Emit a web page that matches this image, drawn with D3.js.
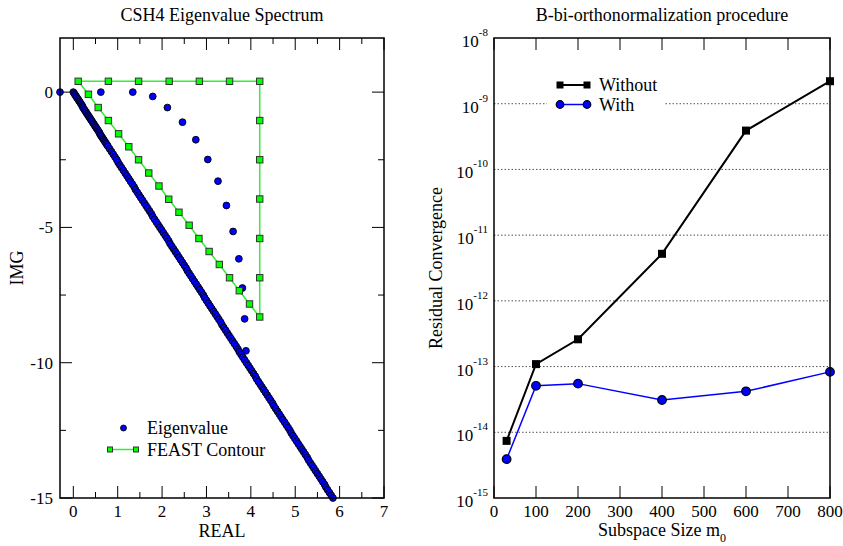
<!DOCTYPE html>
<html lang="en">
<head>
<meta charset="UTF-8">
<title>CSH4 Eigenvalue Spectrum / B-bi-orthonormalization</title>
<script src="https://cdnjs.cloudflare.com/ajax/libs/d3/7.8.5/d3.min.js"></script>
<style>
  body { margin: 0; background: #fff; }
  svg { display: block; font-family: "Liberation Serif", "Times New Roman", "DejaVu Serif", serif; }
  .tick-label { font-size: 17px; fill: #000; }
  .title { font-size: 18px; fill: #000; }
  .axis-title { font-size: 18px; fill: #000; }
  .legend-text { font-size: 18px; fill: #000; }
</style>
</head>
<body>
<svg id="chart" width="843" height="546"></svg>
<script>
// ---- left panel data: eigenvalues (real, imag) ----
const eigenBranch = [
  [-0.30, 0.00], [0.62, 0.00], [1.34, 0.00], [1.79, -0.16], [2.12, -0.57],
  [2.46, -1.11], [2.76, -1.76], [3.03, -2.49], [3.26, -3.29], [3.45, -4.19],
  [3.60, -5.15], [3.73, -6.16], [3.81, -7.24], [3.86, -8.38], [3.89, -9.56]
];
const eigenLine = [
  [0.00,0.00],[0.02,-0.05],[0.04,-0.10],[0.06,-0.15],[0.08,-0.20],[0.10,-0.25],[0.12,-0.30],[0.14,-0.35],
  [0.16,-0.40],[0.18,-0.45],[0.20,-0.50],[0.21,-0.55],[0.23,-0.60],[0.25,-0.65],[0.27,-0.70],[0.29,-0.75],
  [0.31,-0.80],[0.33,-0.85],[0.35,-0.90],[0.37,-0.95],[0.39,-1.00],[0.41,-1.05],[0.43,-1.10],[0.45,-1.15],
  [0.47,-1.20],[0.49,-1.25],[0.51,-1.30],[0.53,-1.35],[0.55,-1.40],[0.57,-1.45],[0.59,-1.50],[0.60,-1.55],
  [0.62,-1.60],[0.64,-1.65],[0.66,-1.70],[0.68,-1.75],[0.70,-1.80],[0.72,-1.85],[0.74,-1.90],[0.76,-1.95],
  [0.78,-2.0],[0.82,-2.1],[0.86,-2.2],[0.90,-2.3],[0.94,-2.4],[0.98,-2.5],[1.01,-2.6],[1.05,-2.7],
  [1.09,-2.8],[1.13,-2.9],[1.17,-3.0],[1.21,-3.1],[1.25,-3.2],[1.29,-3.3],[1.33,-3.4],[1.37,-3.5],
  [1.40,-3.6],[1.44,-3.7],[1.48,-3.8],[1.52,-3.9],[1.56,-4.0],[1.60,-4.1],[1.64,-4.2],[1.68,-4.3],
  [1.72,-4.4],[1.76,-4.5],[1.79,-4.6],[1.83,-4.7],[1.87,-4.8],[1.91,-4.9],[1.95,-5.0],[1.99,-5.1],
  [2.03,-5.2],[2.07,-5.3],[2.11,-5.4],[2.15,-5.5],[2.18,-5.6],[2.22,-5.7],[2.26,-5.8],[2.30,-5.9],
  [2.34,-6.0],[2.38,-6.1],[2.42,-6.2],[2.46,-6.3],[2.50,-6.4],[2.54,-6.5],[2.57,-6.6],[2.61,-6.7],
  [2.65,-6.8],[2.69,-6.9],[2.73,-7.0],[2.77,-7.1],[2.81,-7.2],[2.85,-7.3],[2.89,-7.4],[2.93,-7.5],
  [2.96,-7.6],[3.00,-7.7],[3.04,-7.8],[3.08,-7.9],[3.12,-8.0],[3.16,-8.1],[3.20,-8.2],[3.24,-8.3],
  [3.28,-8.4],[3.32,-8.5],[3.35,-8.6],[3.39,-8.7],[3.43,-8.8],[3.47,-8.9],[3.51,-9.0],[3.55,-9.1],
  [3.59,-9.2],[3.63,-9.3],[3.67,-9.4],[3.71,-9.5],[3.74,-9.6],[3.78,-9.7],[3.82,-9.8],[3.86,-9.9],
  [3.90,-10.0],[3.94,-10.1],[3.98,-10.2],[4.02,-10.3],[4.06,-10.4],[4.10,-10.5],[4.13,-10.6],[4.17,-10.7],
  [4.21,-10.8],[4.25,-10.9],[4.29,-11.0],[4.33,-11.1],[4.37,-11.2],[4.41,-11.3],[4.45,-11.4],[4.49,-11.5],
  [4.52,-11.6],[4.56,-11.7],[4.60,-11.8],[4.64,-11.9],[4.68,-12.0],[4.72,-12.1],[4.76,-12.2],[4.80,-12.3],
  [4.84,-12.4],[4.88,-12.5],[4.91,-12.6],[4.95,-12.7],[4.99,-12.8],[5.03,-12.9],[5.07,-13.0],[5.11,-13.1],
  [5.15,-13.2],[5.19,-13.3],[5.23,-13.4],[5.27,-13.5],[5.30,-13.6],[5.34,-13.7],[5.38,-13.8],[5.42,-13.9],
  [5.46,-14.0],[5.50,-14.1],[5.54,-14.2],[5.58,-14.3],[5.62,-14.4],[5.66,-14.5],[5.69,-14.6],[5.73,-14.7],
  [5.77,-14.8],[5.81,-14.9],[5.85,-15.0]
];
// FEAST contour polyline (top edge -> right edge -> diagonal back)
const feastContour = [
  [0.11,0.40],[0.79,0.40],[1.47,0.40],[2.16,0.40],[2.84,0.40],[3.52,0.40],[4.20,0.40],
  [4.20,-1.05],[4.20,-2.50],[4.20,-3.95],[4.20,-5.41],[4.20,-6.86],[4.20,-8.31],
  [3.97,-7.83],[3.74,-7.34],[3.52,-6.86],[3.29,-6.37],[3.06,-5.89],[2.83,-5.41],[2.61,-4.92],
  [2.38,-4.44],[2.15,-3.96],[1.93,-3.47],[1.70,-2.99],[1.47,-2.50],[1.25,-2.02],[1.02,-1.54],
  [0.79,-1.05],[0.56,-0.57],[0.34,-0.08],[0.11,0.40]
];
const leftXTicks = [0, 1, 2, 3, 4, 5, 6, 7];
const leftYTicks = [0, -5, -10, -15];

// ---- right panel data ----
const subspaceSizes = [30, 100, 200, 400, 600, 800];
const residualWithout = [7.4e-15, 1.09e-13, 2.6e-13, 5.2e-12, 3.9e-10, 2.2e-9];
const residualWith = [3.9e-15, 5.1e-14, 5.5e-14, 3.1e-14, 4.2e-14, 8.3e-14];
const rightXTicks = [0, 100, 200, 300, 400, 500, 600, 700, 800];
const rightYExponents = [-8, -9, -10, -11, -12, -13, -14, -15];

const svg = d3.select("#chart");

// =============== LEFT PANEL ===============
const L = { left: 60, right: 384, top: 38, bottom: 498 };
const lx = d3.scaleLinear().domain([-0.3, 7]).range([L.left, L.right]);
const ly = d3.scaleLinear().domain([-15, 2]).range([L.bottom, L.top]);

const left = svg.append("g");
left.append("defs").append("clipPath").attr("id", "clipL")
  .append("rect").attr("x", L.left - 5).attr("y", L.top).attr("width", L.right - L.left + 5).attr("height", L.bottom - L.top + 5);

// ticks (inward, mirrored)
const lxMinor = d3.range(0.5, 7, 1);
const lyMinor = [-2.5, -7.5, -12.5];
const tickG = left.append("g").attr("stroke", "#000").attr("stroke-width", 1);
leftXTicks.concat(lxMinor).forEach(v => {
  const len = Number.isInteger(v) ? 12 : 6;
  tickG.append("line").attr("x1", lx(v)).attr("x2", lx(v)).attr("y1", L.bottom).attr("y2", L.bottom - len);
  tickG.append("line").attr("x1", lx(v)).attr("x2", lx(v)).attr("y1", L.top).attr("y2", L.top + len);
});
leftYTicks.concat(lyMinor).forEach(v => {
  const len = Number.isInteger(v) && v % 5 === 0 ? 12 : 6;
  tickG.append("line").attr("y1", ly(v)).attr("y2", ly(v)).attr("x1", L.left).attr("x2", L.left + len);
  tickG.append("line").attr("y1", ly(v)).attr("y2", ly(v)).attr("x1", L.right).attr("x2", L.right - len);
});

leftXTicks.forEach(v => {
  left.append("text").attr("class", "tick-label").attr("x", lx(v)).attr("y", 517)
    .attr("text-anchor", "middle").text(v);
});
leftYTicks.forEach(v => {
  left.append("text").attr("class", "tick-label").attr("x", 53).attr("y", ly(v) + 6)
    .attr("text-anchor", "end").text(v === 0 ? "0" : "-" + Math.abs(v));
});

// FEAST contour
const plotL = left.append("g").attr("clip-path", "url(#clipL)");
plotL.append("path").datum(feastContour)
  .attr("d", d3.line().x(d => lx(d[0])).y(d => ly(d[1])))
  .attr("fill", "none").attr("stroke", "#33ee33").attr("stroke-width", 1.5);

// eigenvalues
plotL.selectAll("circle.eig").data(eigenBranch.concat(eigenLine)).join("circle")
  .attr("class", "eig")
  .attr("cx", d => lx(d[0])).attr("cy", d => ly(d[1])).attr("r", 3.4)
  .attr("fill", "#0000ff").attr("stroke", "#000").attr("stroke-width", 0.9);

plotL.selectAll("rect.feast").data(feastContour.slice(0, -1)).join("rect")
  .attr("class", "feast")
  .attr("x", d => lx(d[0]) - 3.2).attr("y", d => ly(d[1]) - 3.2)
  .attr("width", 6.4).attr("height", 6.4)
  .attr("fill", "#00ff00").attr("stroke", "#333").attr("stroke-width", 1);

// frame
left.append("rect").attr("x", L.left).attr("y", L.top).attr("width", L.right - L.left).attr("height", L.bottom - L.top)
  .attr("fill", "none").attr("stroke", "#000").attr("stroke-width", 1.5);

// legend
left.append("circle").attr("cx", 123.5).attr("cy", 428).attr("r", 3).attr("fill", "#0000ff").attr("stroke", "#000").attr("stroke-width", 0.8);
left.append("text").attr("class", "legend-text").attr("x", 147).attr("y", 434).text("Eigenvalue");
left.append("line").attr("x1", 110).attr("x2", 136).attr("y1", 449.5).attr("y2", 449.5).attr("stroke", "#33ee33").attr("stroke-width", 1.5);
[110, 136].forEach(x => left.append("rect").attr("x", x - 2.5).attr("y", 447).attr("width", 5).attr("height", 5)
  .attr("fill", "#00ff00").attr("stroke", "#333").attr("stroke-width", 1));
left.append("text").attr("class", "legend-text").attr("x", 147).attr("y", 455.5).text("FEAST Contour");

// titles
left.append("text").attr("class", "title").attr("x", (L.left + L.right) / 2).attr("y", 21).attr("text-anchor", "middle").text("CSH4 Eigenvalue Spectrum");
left.append("text").attr("class", "axis-title").attr("x", (L.left + L.right) / 2).attr("y", 537).attr("text-anchor", "middle").text("REAL");
left.append("text").attr("class", "axis-title").attr("transform", `translate(23,${(L.top + L.bottom) / 2}) rotate(-90)`)
  .attr("text-anchor", "middle").text("IMG");

// =============== RIGHT PANEL ===============
const R = { left: 494, right: 830, top: 38, bottom: 498 };
const rx = d3.scaleLinear().domain([0, 800]).range([R.left, R.right]);
const ry = d3.scaleLog().domain([1e-15, 1e-8]).range([R.bottom, R.top]);

const right = svg.append("g");

// dotted grid lines at each decade
const grid = right.append("g");
rightYExponents.slice(1, -1).forEach(e => {
  grid.append("line").attr("x1", R.left).attr("x2", R.right)
    .attr("y1", ry(Math.pow(10, e))).attr("y2", ry(Math.pow(10, e)))
    .attr("stroke", "#555").attr("stroke-width", 1).attr("stroke-dasharray", "1.5,2");
});

// x ticks top and bottom (inward)
const rt = right.append("g").attr("stroke", "#000").attr("stroke-width", 1);
rightXTicks.forEach(v => {
  rt.append("line").attr("x1", rx(v)).attr("x2", rx(v)).attr("y1", R.bottom).attr("y2", R.bottom - 12);
  rt.append("line").attr("x1", rx(v)).attr("x2", rx(v)).attr("y1", R.top).attr("y2", R.top + 12);
  right.append("text").attr("class", "tick-label").attr("x", rx(v)).attr("y", 517).attr("text-anchor", "middle").text(v);
});

// y tick labels 10^e
rightYExponents.forEach(e => {
  const t = right.append("text").attr("class", "tick-label").attr("x", 488).attr("y", ry(Math.pow(10, e)) + 9)
    .attr("text-anchor", "end");
  t.append("tspan").text("10");
  t.append("tspan").attr("dy", -11).attr("font-size", 11).text(e);
});

// legend background (interrupts grid line)
right.append("rect").attr("x", 547).attr("y", 70).attr("width", 118).attr("height", 48).attr("fill", "#fff");

// series
const line = d3.line().x(d => rx(d[0])).y(d => ry(d[1]));
const without = subspaceSizes.map((s, i) => [s, residualWithout[i]]);
const withB = subspaceSizes.map((s, i) => [s, residualWith[i]]);

right.append("path").datum(without).attr("d", line).attr("fill", "none").attr("stroke", "#000").attr("stroke-width", 2);
right.append("path").datum(withB).attr("d", line).attr("fill", "none").attr("stroke", "#0000ff").attr("stroke-width", 1.5);

right.selectAll("rect.wo").data(without).join("rect").attr("class", "wo")
  .attr("x", d => rx(d[0]) - 4).attr("y", d => ry(d[1]) - 4).attr("width", 8).attr("height", 8).attr("fill", "#000");
right.selectAll("circle.wi").data(withB).join("circle").attr("class", "wi")
  .attr("cx", d => rx(d[0])).attr("cy", d => ry(d[1])).attr("r", 4.3)
  .attr("fill", "#0000ff").attr("stroke", "#000").attr("stroke-width", 1.2);

// legend
right.append("line").attr("x1", 560).attr("x2", 587).attr("y1", 85).attr("y2", 85).attr("stroke", "#000").attr("stroke-width", 2);
[560, 587].forEach(x => right.append("rect").attr("x", x - 3.5).attr("y", 81.5).attr("width", 7).attr("height", 7).attr("fill", "#000"));
right.append("text").attr("class", "legend-text").attr("x", 599).attr("y", 91).text("Without");
right.append("line").attr("x1", 560).attr("x2", 587).attr("y1", 104.5).attr("y2", 104.5).attr("stroke", "#0000ff").attr("stroke-width", 1.5);
[560, 587].forEach(x => right.append("circle").attr("cx", x).attr("cy", 104.5).attr("r", 3.8)
  .attr("fill", "#0000ff").attr("stroke", "#000").attr("stroke-width", 1.2));
right.append("text").attr("class", "legend-text").attr("x", 599).attr("y", 110.5).text("With");

// frame
right.append("rect").attr("x", R.left).attr("y", R.top).attr("width", R.right - R.left).attr("height", R.bottom - R.top)
  .attr("fill", "none").attr("stroke", "#000").attr("stroke-width", 1.5);

// titles
right.append("text").attr("class", "title").attr("x", (R.left + R.right) / 2).attr("y", 21).attr("text-anchor", "middle").text("B-bi-orthonormalization procedure");
const xl = right.append("text").attr("class", "axis-title").attr("x", (R.left + R.right) / 2).attr("y", 536).attr("text-anchor", "middle");
xl.append("tspan").text("Subspace Size m");
xl.append("tspan").attr("dy", 6).attr("font-size", 12).text("0");
right.append("text").attr("class", "axis-title").attr("transform", `translate(442,${(R.top + R.bottom) / 2}) rotate(-90)`)
  .attr("text-anchor", "middle").text("Residual Convergence");
</script>
</body>
</html>
